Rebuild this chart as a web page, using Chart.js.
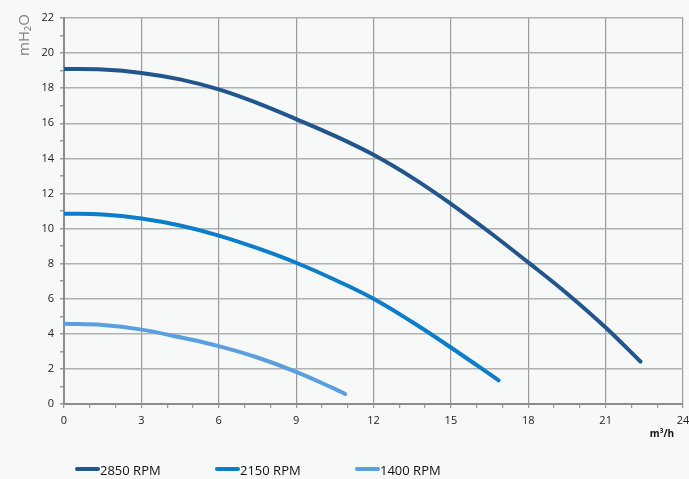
<!DOCTYPE html>
<html>
<head>
<meta charset="utf-8">
<script src="https://cdn.jsdelivr.net/npm/chart.js@4/dist/chart.umd.min.js"></script>
<style>
  html, body { margin: 0; padding: 0; background: #f7f8f8; }
  #wrap { width: 689px; height: 479px; position: relative; }
</style>
</head>
<body>
<div id="wrap"><canvas id="c" width="689" height="479"></canvas></div>
<script>
// Data (flow m³/h, head mH2O)
const flow2850 = [0, 1.5, 3, 4.5, 6, 7.5, 9, 10.5, 12, 13.5, 15, 16.5, 18, 19.5, 21, 22.35];
const head2850 = [19.09, 19.06, 18.87, 18.5, 17.93, 17.15, 16.24, 15.28, 14.2, 12.9, 11.41, 9.79, 8.07, 6.3, 4.36, 2.42];
const flow2150 = [0, 1.5, 3, 4.5, 6, 7.5, 9, 10.5, 12, 13.5, 15, 16.85];
const head2150 = [10.85, 10.8, 10.57, 10.17, 9.6, 8.88, 8.05, 7.08, 6.0, 4.67, 3.22, 1.35];
const flow1400 = [0, 1.5, 3, 4.5, 6, 7.5, 9, 10.5, 10.9];
const head1400 = [4.57, 4.5, 4.24, 3.8, 3.3, 2.65, 1.83, 0.86, 0.57];
const seriesLabels = ['2850 RPM', '2150 RPM', '1400 RPM'];
const seriesColors = ['#21558c', '#0b7dc9', '#5b9fe0'];
const xTickLabels = [0, 3, 6, 9, 12, 15, 18, 21, 24];
const yTickLabels = [0, 2, 4, 6, 8, 10, 12, 14, 16, 18, 20, 22];
const yTitle = 'mH\u2082O';
const xTitle = 'm\u00B3/h';

function pts(xs, ys) { return xs.map((x, i) => ({ x: x, y: ys[i] })); }

const FONT = '"Open Sans", "Noto Sans", sans-serif';

const extras = {
  id: 'extras',
  afterDraw(chart) {
    const ctx = chart.ctx;
    ctx.save();
    // y-axis title
    ctx.fillStyle = '#808080';
    ctx.font = '15px ' + FONT;
    ctx.translate(25, 56);
    ctx.rotate(-Math.PI / 2);
    ctx.textAlign = 'left';
    ctx.textBaseline = 'middle';
    ctx.fillText(yTitle, 0, 0);
    ctx.restore();

    ctx.save();
    // x-axis title
    ctx.fillStyle = '#111';
    ctx.font = 'bold 10px ' + FONT;
    ctx.textAlign = 'center';
    ctx.textBaseline = 'middle';
    ctx.fillText(xTitle, 662, 434);

    // legend
    const lx = [77, 217, 357];
    ctx.font = '13px ' + FONT;
    ctx.textAlign = 'left';
    chart.data.datasets.forEach((ds, i) => {
      ctx.strokeStyle = ds.borderColor;
      ctx.lineWidth = 4;
      ctx.lineCap = 'round';
      ctx.beginPath();
      ctx.moveTo(lx[i], 469);
      ctx.lineTo(lx[i] + 21, 469);
      ctx.stroke();
      ctx.fillStyle = '#111';
      ctx.fillText(ds.label, lx[i] + 23, 471);
    });
    ctx.restore();
  }
};

const gridGray = '#9a9a9a';

new Chart(document.getElementById('c'), {
  type: 'line',
  data: {
    datasets: [
      { label: seriesLabels[0], data: pts(flow2850, head2850), borderColor: seriesColors[0] },
      { label: seriesLabels[1], data: pts(flow2150, head2150), borderColor: seriesColors[1] },
      { label: seriesLabels[2], data: pts(flow1400, head1400), borderColor: seriesColors[2] }
    ].map(d => Object.assign(d, {
      borderWidth: 4, pointRadius: 0, fill: false,
      tension: 0.4, borderCapStyle: 'round'
    }))
  },
  options: {
    responsive: false,
    animation: false,
    events: [],
    layout: { padding: { left: 0, top: 18, right: 6, bottom: 44 } },
    plugins: { legend: { display: false }, tooltip: { enabled: false } },
    scales: {
      x: {
        type: 'linear', min: 0, max: 24,
        afterFit(s) { s.height = 31; s.paddingRight = 0; s.paddingLeft = 0; },
        afterBuildTicks(s) {
          const t = [];
          for (let v = 0; v <= 24; v++) t.push({ value: v });
          s.ticks = t;
        },
        ticks: {
          autoSkip: false, maxRotation: 0, padding: 6,
          color: '#222', font: { family: FONT, size: 11 },
          callback: v => xTickLabels.includes(v) ? String(v) : ''
        },
        grid: {
          color: c => (c.tick && xTickLabels.includes(c.tick.value) ? gridGray : 'rgba(0,0,0,0)'),
          tickColor: gridGray,
          tickLength: 4,
          lineWidth: 1.2
        },
        border: { color: '#8c8c8c', width: 2 }
      },
      y: {
        type: 'linear', min: 0, max: 22,
        afterFit(s) { s.width = 64; s.paddingTop = 0; s.paddingBottom = 0; },
        afterBuildTicks(s) {
          const t = [];
          for (let v = 0; v <= 22; v++) t.push({ value: v });
          s.ticks = t;
        },
        ticks: {
          autoSkip: false, padding: 6,
          color: '#222', font: { family: FONT, size: 11 },
          callback: v => yTickLabels.includes(v) ? String(v) : ''
        },
        grid: {
          color: c => (c.tick && yTickLabels.includes(c.tick.value) ? '#b0b0b0' : 'rgba(0,0,0,0)'),
          tickColor: gridGray,
          tickLength: 4,
          lineWidth: 1.5
        },
        border: { color: '#8c8c8c', width: 2 }
      }
    }
  },
  plugins: [extras]
});
</script>
</body>
</html>
